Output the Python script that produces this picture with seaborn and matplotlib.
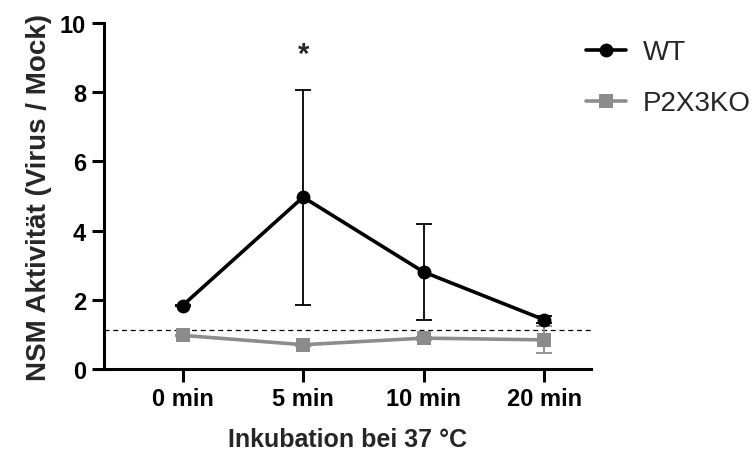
import matplotlib
matplotlib.use("Agg")
import matplotlib.pyplot as plt
import seaborn as sns
import pandas as pd
import numpy as np

categories = ["0 min", "5 min", "10 min", "20 min"]
wt_mean = [1.84, 4.97, 2.81, 1.43]
wt_err = [0.02, 3.10, 1.38, 0.10]
ko_mean = [0.98, 0.71, 0.90, 0.85]
ko_err = [0.02, 0.03, 0.04, 0.39]
baseline = 1.13
star_y = 9.1

sns.set_theme(style="ticks")
plt.rcParams['font.family'] = ['Liberation Sans', 'DejaVu Sans']

df = pd.DataFrame({
    "x": list(range(len(categories))) * 2,
    "y": wt_mean + ko_mean,
    "group": ["WT"] * 4 + ["P2X3KO"] * 4,
})

fig = plt.figure(figsize=(7.55, 4.6), dpi=100)
ax = fig.add_axes([0.138, 0.195, 0.645, 0.753])

colors = {"WT": "black", "P2X3KO": "#8c8c8c"}
xs = np.arange(len(categories))
ax.errorbar(xs, wt_mean, yerr=wt_err, fmt="none", ecolor="black", elinewidth=1.3,
            capsize=5.5, capthick=1.3, zorder=2)
ax.errorbar(xs, ko_mean, yerr=ko_err, fmt="none", ecolor="#8c8c8c", elinewidth=1.3,
            capsize=5.5, capthick=1.3, zorder=2)
sns.lineplot(data=df, x="x", y="y", hue="group", style="group", palette=colors,
             markers={"WT": "o", "P2X3KO": "s"}, dashes=False, linewidth=2.6,
             markersize=10, markeredgewidth=0, ax=ax, zorder=3)

ax.axhline(baseline, color="black", linestyle=(0, (4, 3)), linewidth=0.9, zorder=1)
ax.text(1, star_y, "*", ha="center", va="center", fontsize=21, fontweight="bold")

ax.set_xlim(-0.65, 3.39)
ax.set_ylim(0, 10)
ax.set_xticks(xs)
ax.set_xticklabels(categories)
ax.set_yticks([0, 2, 4, 6, 8, 10])
for lab in ax.get_xticklabels() + ax.get_yticklabels():
    lab.set_fontweight("bold")
    lab.set_fontsize(17)
ax.tick_params(axis="both", length=9, width=2.2, color="black", labelcolor="black", pad=4)
ax.set_xlabel("Inkubation bei 37 °C", fontsize=18, fontweight="bold", labelpad=12)
ax.set_ylabel("NSM Aktivität (Virus / Mock)", fontsize=20, fontweight="bold", labelpad=6)
for s in ["left", "bottom"]:
    ax.spines[s].set_linewidth(2.2)
    ax.spines[s].set_color("black")
sns.despine(ax=ax)

handles, labels = ax.get_legend_handles_labels()
ax.legend(handles, labels, loc="upper left", bbox_to_anchor=(0.938, 1.025), frameon=False,
          fontsize=20, handlelength=1.45, labelspacing=0.9, handletextpad=0.6)

fig.savefig("out.png", dpi=100)
